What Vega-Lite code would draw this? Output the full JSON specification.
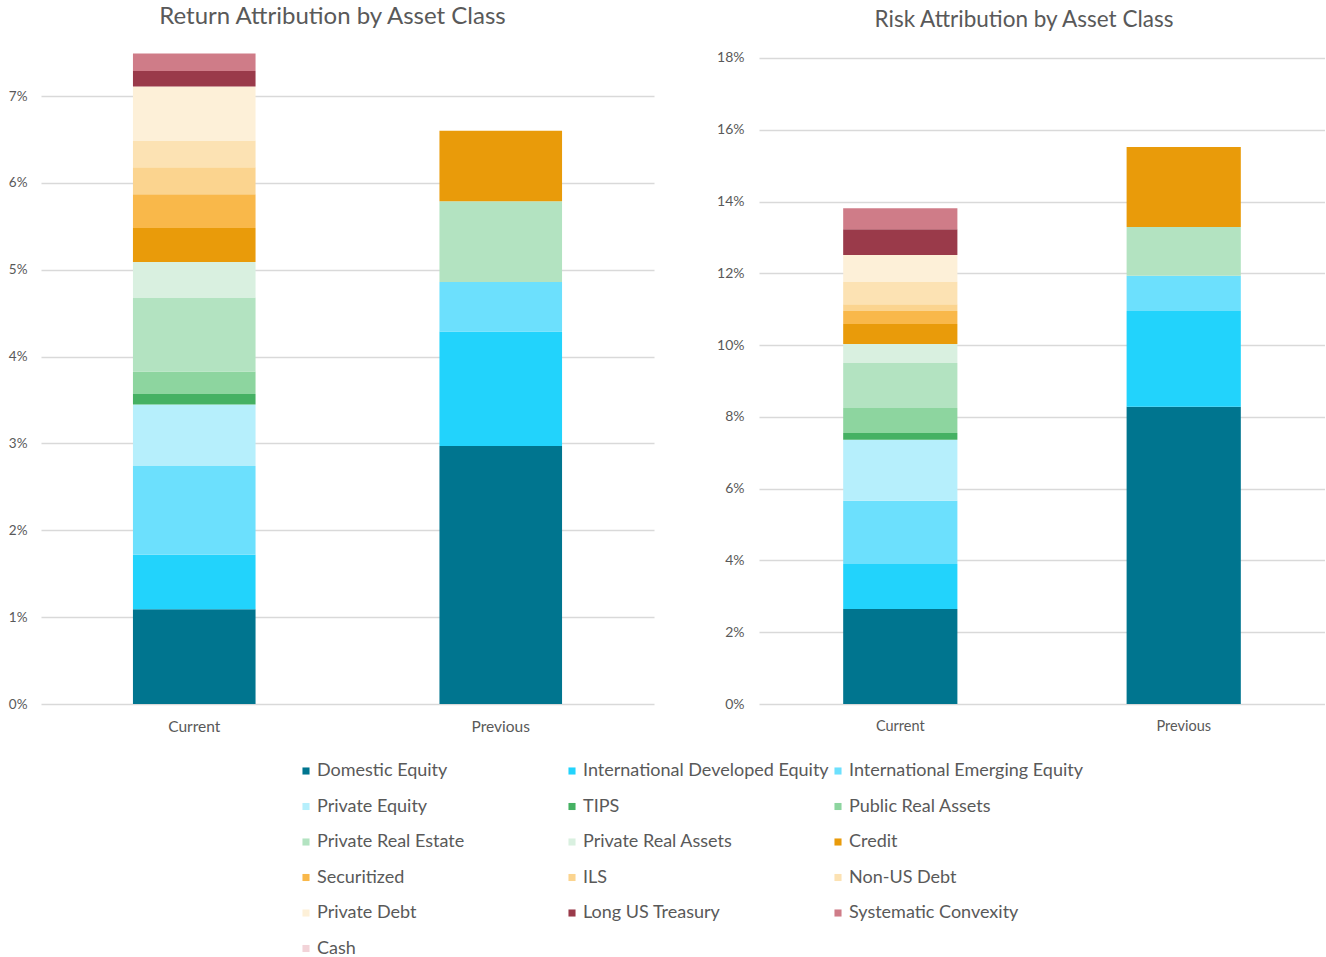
{
  "$schema": "https://vega.github.io/schema/vega-lite/v6.json",
  "background": "white",
  "padding": {"left": 8, "top": 5, "right": 0, "bottom": 0},
  "spacing": 62,
  "config": {
    "font": "Lato",
    "view": {"stroke": null},
    "title": {"fontSize": 24, "color": "#595959", "fontWeight": "normal", "font": "Lato"}
  },
  "resolve": {"scale": {"color": "shared"}},
  "datasets": {
    "ret": [
      {"period": "Current", "asset": "Domestic Equity", "value": 1.09},
      {"period": "Current", "asset": "International Developed Equity", "value": 0.63},
      {"period": "Current", "asset": "International Emerging Equity", "value": 1.02},
      {"period": "Current", "asset": "Private Equity", "value": 0.71},
      {"period": "Current", "asset": "TIPS", "value": 0.12},
      {"period": "Current", "asset": "Public Real Assets", "value": 0.26},
      {"period": "Current", "asset": "Private Real Estate", "value": 0.85},
      {"period": "Current", "asset": "Private Real Assets", "value": 0.41},
      {"period": "Current", "asset": "Credit", "value": 0.39},
      {"period": "Current", "asset": "Securitized", "value": 0.39},
      {"period": "Current", "asset": "ILS", "value": 0.31},
      {"period": "Current", "asset": "Non-US Debt", "value": 0.31},
      {"period": "Current", "asset": "Private Debt", "value": 0.62},
      {"period": "Current", "asset": "Long US Treasury", "value": 0.18},
      {"period": "Current", "asset": "Systematic Convexity", "value": 0.20},
      {"period": "Current", "asset": "Cash", "value": 0},
      {"period": "Previous", "asset": "Domestic Equity", "value": 2.97},
      {"period": "Previous", "asset": "International Developed Equity", "value": 1.32},
      {"period": "Previous", "asset": "International Emerging Equity", "value": 0.57},
      {"period": "Previous", "asset": "Private Real Estate", "value": 0.93},
      {"period": "Previous", "asset": "Credit", "value": 0.81}
    ],
    "risk": [
      {"period": "Current", "asset": "Domestic Equity", "value": 2.65},
      {"period": "Current", "asset": "International Developed Equity", "value": 1.25},
      {"period": "Current", "asset": "International Emerging Equity", "value": 1.76},
      {"period": "Current", "asset": "Private Equity", "value": 1.70},
      {"period": "Current", "asset": "TIPS", "value": 0.19},
      {"period": "Current", "asset": "Public Real Assets", "value": 0.70},
      {"period": "Current", "asset": "Private Real Estate", "value": 1.25},
      {"period": "Current", "asset": "Private Real Assets", "value": 0.53},
      {"period": "Current", "asset": "Credit", "value": 0.56},
      {"period": "Current", "asset": "Securitized", "value": 0.36},
      {"period": "Current", "asset": "ILS", "value": 0.19},
      {"period": "Current", "asset": "Non-US Debt", "value": 0.63},
      {"period": "Current", "asset": "Private Debt", "value": 0.74},
      {"period": "Current", "asset": "Long US Treasury", "value": 0.72},
      {"period": "Current", "asset": "Systematic Convexity", "value": 0.58},
      {"period": "Current", "asset": "Cash", "value": 0},
      {"period": "Previous", "asset": "Domestic Equity", "value": 8.28},
      {"period": "Previous", "asset": "International Developed Equity", "value": 2.67},
      {"period": "Previous", "asset": "International Emerging Equity", "value": 0.98},
      {"period": "Previous", "asset": "Private Real Estate", "value": 1.36},
      {"period": "Previous", "asset": "Credit", "value": 2.23}
    ]
  },
  "hconcat": [
    {
      "title": {"text": "Return Attribution by Asset Class", "offset": 15, "dx": -15},
      "width": 613,
      "height": 660,
      "data": {"name": "ret"},
      "transform": [
        {"calculate": "indexof(['Domestic Equity','International Developed Equity','International Emerging Equity','Private Equity','TIPS','Public Real Assets','Private Real Estate','Private Real Assets','Credit','Securitized','ILS','Non-US Debt','Private Debt','Long US Treasury','Systematic Convexity','Cash'], datum.asset)", "as": "stackOrder"}
      ],
      "mark": {"type": "bar"},
      "encoding": {
        "x": {"field": "period", "type": "nominal",
          "scale": {"paddingInner": 0.6, "paddingOuter": 0.3},
          "axis": {"title": null, "labelAngle": 0, "domain": false, "ticks": false, "labelPadding": 15, "labelFontSize": 15.5, "labelColor": "#595959"}},
        "y": {"field": "value", "type": "quantitative", "stack": "zero",
          "scale": {"domain": [0, 7.6], "nice": false},
          "axis": {"title": null, "values": [0,1,2,3,4,5,6,7], "labelExpr": "datum.value + '%'", "domain": false, "ticks": false, "labelPadding": 14, "grid": true, "gridColor": "#d9d9d9", "gridWidth": 1.5, "labelFontSize": 13.5, "labelColor": "#595959"}},
        "order": {"field": "stackOrder", "type": "quantitative", "sort": "ascending"},
        "color": {"field": "asset", "type": "nominal",
          "sort": ["Domestic Equity","International Developed Equity","International Emerging Equity","Private Equity","TIPS","Public Real Assets","Private Real Estate","Private Real Assets","Credit","Securitized","ILS","Non-US Debt","Private Debt","Long US Treasury","Systematic Convexity","Cash"],
          "scale": {
            "domain": ["Domestic Equity","International Developed Equity","International Emerging Equity","Private Equity","TIPS","Public Real Assets","Private Real Estate","Private Real Assets","Credit","Securitized","ILS","Non-US Debt","Private Debt","Long US Treasury","Systematic Convexity","Cash"],
            "range": ["#00758f","#22d3fc","#6ce0fd","#b6effc","#45b163","#8dd59f","#b3e3c1","#d9f0e0","#e99b0a","#f9b84a","#fbd48f","#fce2b3","#fdf0d8","#9a3a4a","#cf7c88","#f2d3d8"]
          },
          "legend": {"orient": "none", "direction": "horizontal", "legendX": 256, "legendY": 718, "columns": 3, "gridAlign": "all", "title": null, "symbolType": "square", "symbolSize": 50, "symbolStrokeWidth": 0, "labelFontSize": 18, "labelColor": "#595959", "labelLimit": 400, "labelOffset": 2, "columnPadding": 0, "rowPadding": 17.5, "padding": 0}
        }
      }
    },
    {
      "title": {"text": "Risk Attribution by Asset Class", "offset": 13, "dx": -18, "fontSize": 22.5},
      "width": 566,
      "height": 660,
      "data": {"name": "risk"},
      "transform": [
        {"calculate": "indexof(['Domestic Equity','International Developed Equity','International Emerging Equity','Private Equity','TIPS','Public Real Assets','Private Real Estate','Private Real Assets','Credit','Securitized','ILS','Non-US Debt','Private Debt','Long US Treasury','Systematic Convexity','Cash'], datum.asset)", "as": "stackOrder"}
      ],
      "mark": {"type": "bar"},
      "encoding": {
        "x": {"field": "period", "type": "nominal",
          "scale": {"paddingInner": 0.597, "paddingOuter": 0.297},
          "axis": {"title": null, "labelAngle": 0, "domain": false, "ticks": false, "labelPadding": 15, "labelFontSize": 14.5, "labelColor": "#595959"}},
        "y": {"field": "value", "type": "quantitative", "stack": "zero",
          "scale": {"domain": [0, 18.39], "nice": false},
          "axis": {"title": null, "values": [0,2,4,6,8,10,12,14,16,18], "labelExpr": "datum.value + '%'", "domain": false, "ticks": false, "labelPadding": 15, "grid": true, "gridColor": "#d9d9d9", "gridWidth": 1.5, "labelFontSize": 14, "labelColor": "#595959"}},
        "order": {"field": "stackOrder", "type": "quantitative", "sort": "ascending"},
        "color": {"field": "asset", "type": "nominal",
          "sort": ["Domestic Equity","International Developed Equity","International Emerging Equity","Private Equity","TIPS","Public Real Assets","Private Real Estate","Private Real Assets","Credit","Securitized","ILS","Non-US Debt","Private Debt","Long US Treasury","Systematic Convexity","Cash"]
        }
      }
    }
  ]
}
